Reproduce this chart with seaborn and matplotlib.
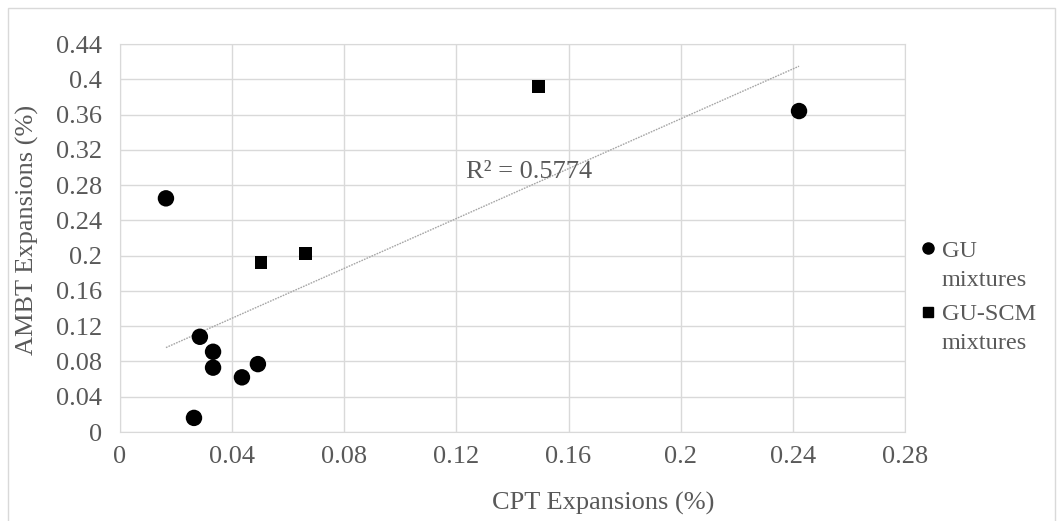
import numpy as np
import pandas as pd
import matplotlib
matplotlib.use("Agg")
import matplotlib.pyplot as plt
import seaborn as sns
from matplotlib.patches import Rectangle

# Data
gu_x = [0.0164, 0.0285, 0.0332, 0.0332, 0.0435, 0.0492, 0.0264, 0.2422]
gu_y = [0.265, 0.108, 0.091, 0.073, 0.062, 0.077, 0.016, 0.364]
scm_x = [0.0503, 0.0663, 0.1494]
scm_y = [0.192, 0.202, 0.392]
groups = ["GU", "GU-SCM"]
x_ticks = [0, 0.04, 0.08, 0.12, 0.16, 0.2, 0.24, 0.28]
y_ticks = [0, 0.04, 0.08, 0.12, 0.16, 0.2, 0.24, 0.28, 0.32, 0.36, 0.4, 0.44]
r2_label = "R² = 0.5774"

df = pd.DataFrame({
    "cpt": gu_x + scm_x,
    "ambt": gu_y + scm_y,
    "mix": [groups[0]] * len(gu_x) + [groups[1]] * len(scm_x),
})

sns.set_style("white")
plt.rcParams["font.family"] = ["Liberation Serif", "DejaVu Serif"]
text_col = "#595959"
grid_col = "#d9d9d9"
fs = 19
leg_fs = 17.5

fig = plt.figure(figsize=(10.57, 5.21), dpi=100)
ax = fig.add_axes([0.1135, 0.1708, 0.7427, 0.7447])

sns.scatterplot(data=df, x="cpt", y="ambt", hue="mix", style="mix",
                palette={groups[0]: "black", groups[1]: "black"},
                markers={groups[0]: "o", groups[1]: "s"},
                size="mix", sizes={groups[0]: 140, groups[1]: 85},
                edgecolor="none", ax=ax, zorder=3, legend=False)

# linear trendline over all points
xs = np.array(df["cpt"])
ys = np.array(df["ambt"])
k, b = np.polyfit(xs, ys, 1)
xl = np.array([xs.min(), xs.max()])
ax.plot(xl, k * xl + b, color="#a6a6a6", lw=1, ls=(0, (1.2, 0.8)), zorder=2)
ax.text(0.1235, 0.295, r2_label, fontsize=fs, color=text_col, va="center")

ax.set_xlim(0, 0.28)
ax.set_ylim(0, 0.44)
ax.set_xticks(x_ticks)
ax.set_yticks(y_ticks)
ax.set_xticklabels([f"{t:g}" for t in x_ticks])
ax.set_yticklabels([f"{t:g}" for t in y_ticks])
ax.tick_params(length=0, labelsize=fs, colors=text_col)
ax.tick_params(axis="y", pad=13)
ax.tick_params(axis="x", pad=10)
ax.grid(True, color=grid_col, lw=1)
for s in ax.spines.values():
    s.set_color(grid_col)
ax.set_xlabel("CPT Expansions (%)", fontsize=fs, color=text_col)
ax.set_ylabel("AMBT Expansions (%)", fontsize=fs, color=text_col)
ax.xaxis.set_label_coords(0.615, -0.183)
ax.xaxis.label.set_va("center")
ax.yaxis.set_label_coords(-0.118, 0.52)
ax.yaxis.label.set_va("center")

# legend
h1 = plt.Line2D([], [], marker="o", ls="none", color="black", markersize=8)
h2 = plt.Line2D([], [], marker="s", ls="none", color="black", markersize=7)
leg = fig.legend([h1, h2], groups, loc="center left",
                 bbox_to_anchor=(0.86, 0.458), frameon=False, fontsize=leg_fs,
                 labelspacing=1.7, handletextpad=0.25, handlelength=0.6,
                 borderpad=0)
for t in leg.get_texts():
    t.set_color(text_col)

fig.canvas.draw()
inv = fig.transFigure.inverted()
for t in leg.get_texts():
    bb = t.get_window_extent()
    x0, y0 = inv.transform((bb.x0, bb.y0 - 29))
    fig.text(x0, y0, "mixtures", fontsize=leg_fs, color=text_col, va="bottom")

fig.patches.append(Rectangle((0.008, -0.01), 0.99, 0.995, transform=fig.transFigure,
                             fill=False, edgecolor=grid_col, lw=1))

fig.savefig("out.png", dpi=100)
